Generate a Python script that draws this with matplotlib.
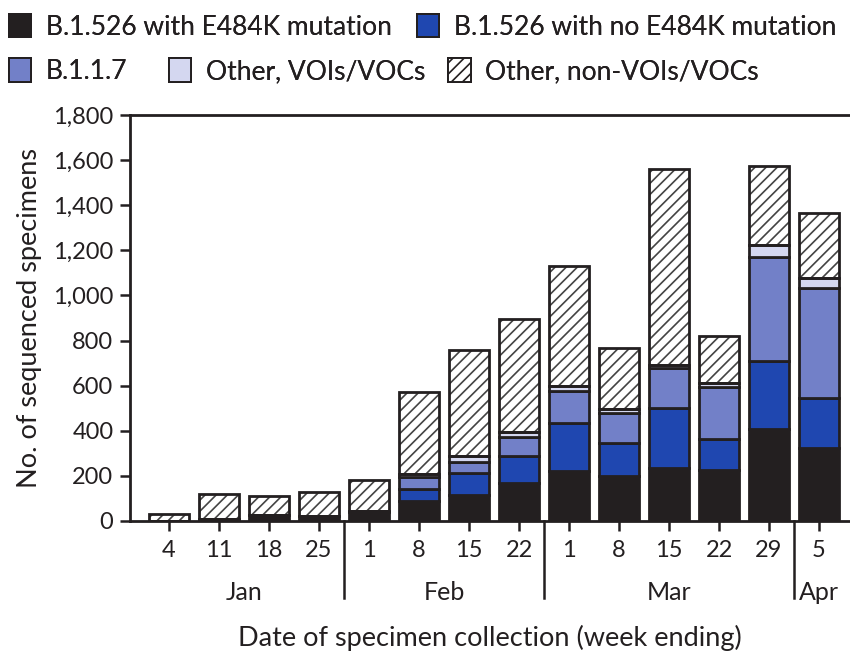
import matplotlib
matplotlib.use("Agg")
import matplotlib.pyplot as plt
import numpy as np
from matplotlib.patches import Patch

plt.rcParams['font.family'] = ['Lato', 'DejaVu Sans']
plt.rcParams['hatch.linewidth'] = 1.2

days = ["4", "11", "18", "25", "1", "8", "15", "22", "1", "8", "15", "22", "29", "5"]
months = ["Jan", "Feb", "Mar", "Apr"]
month_counts = [4, 4, 5, 1]

e484k = [2, 8, 25, 20, 40, 90, 115, 168, 223, 200, 233, 226, 406, 325]
no_e484k = [0, 0, 0, 0, 5, 52, 97, 120, 210, 147, 267, 136, 303, 219]
b117 = [0, 0, 0, 0, 0, 53, 50, 86, 145, 130, 177, 233, 462, 487]
other_voi = [0, 0, 0, 0, 0, 15, 25, 22, 20, 18, 14, 18, 52, 45]
other_non = [28, 112, 85, 110, 135, 360, 473, 499, 532, 270, 869, 207, 352, 289]

series = [
    ("B.1.526 with E484K mutation", e484k, "#231f20", None),
    ("B.1.526 with no E484K mutation", no_e484k, "#1f47b0", None),
    ("B.1.1.7", b117, "#7280c8", None),
    ("Other, VOIs/VOCs", other_voi, "#d4d7f0", None),
    ("Other, non-VOIs/VOCs", other_non, "white", "///"),
]

INK = "#231f20"
fig = plt.figure(figsize=(8.5, 6.56), dpi=100)
ax = fig.add_axes([0.153, 0.2058, 0.847, 0.619])

x = np.arange(len(days))
bottom = np.zeros(len(days))
for label, vals, color, hatch in series:
    vals = np.array(vals, dtype=float)
    if hatch:
        ax.bar(x, vals, 0.8, bottom=bottom, color="white", edgecolor="#444444",
               hatch=hatch, linewidth=0, zorder=2)
        ax.bar(x, vals, 0.8, bottom=bottom, fill=False, edgecolor=INK,
               linewidth=2.0, zorder=3, label=label)
    else:
        ax.bar(x, vals, 0.8, bottom=bottom, color=color, edgecolor=INK,
               linewidth=2.0, zorder=3, label=label)
    bottom += vals

proxies = []
for label, vals, color, hatch in series:
    if hatch:
        proxies.append(Patch(facecolor="white", edgecolor=INK, hatch=hatch, linewidth=1.4, label=label))
    else:
        proxies.append(Patch(facecolor=color, edgecolor=INK, linewidth=1.4, label=label))

common = dict(loc="upper left", frameon=False, fontsize=19, handlelength=0.85, handleheight=1.0,
              handletextpad=0.55, borderaxespad=0, labelcolor=INK)
legend_pos = [(-0.002, 0.995), (0.478, 0.995),
              (-0.002, 0.927), (0.186, 0.927), (0.515, 0.927)]
for handle, pos in zip(proxies, legend_pos):
    leg = fig.legend(handles=[handle], bbox_to_anchor=pos, **common)
    fig.add_artist(leg)

ax.set_xlim(-0.78, 13.62)
ax.set_ylim(0, 1800)
ax.set_yticks(np.arange(0, 1801, 200))
ax.set_yticklabels([f"{v:,}" for v in range(0, 1801, 200)])
ax.set_xticks(x)
ax.set_xticklabels(days)
ax.tick_params(axis="both", labelsize=17, width=1.8, length=7, color=INK, labelcolor=INK)
ax.tick_params(axis="x", pad=7)
ax.tick_params(axis="y", pad=5)
for s in ["left", "bottom", "top"]:
    ax.spines[s].set_linewidth(2.0)
    ax.spines[s].set_color(INK)
ax.spines["right"].set_visible(False)

ax.set_ylabel("No. of sequenced specimens", fontsize=19.5, color=INK, labelpad=8)
ax.set_xlabel("Date of specimen collection (week ending)", fontsize=19.5, color=INK, labelpad=46)

start = 0
bounds = np.cumsum(month_counts)
for m, n in zip(months, month_counts):
    center = start + (n - 1) / 2
    ax.text(center, -0.175, m, transform=ax.get_xaxis_transform(), ha="center", va="center",
            fontsize=18, color=INK)
    start += n
for b in bounds[:-1]:
    ax.plot([b - 0.5, b - 0.5], [0, -0.19], transform=ax.get_xaxis_transform(),
            color=INK, linewidth=1.8, clip_on=False)

fig.savefig("out.png", dpi=100)
